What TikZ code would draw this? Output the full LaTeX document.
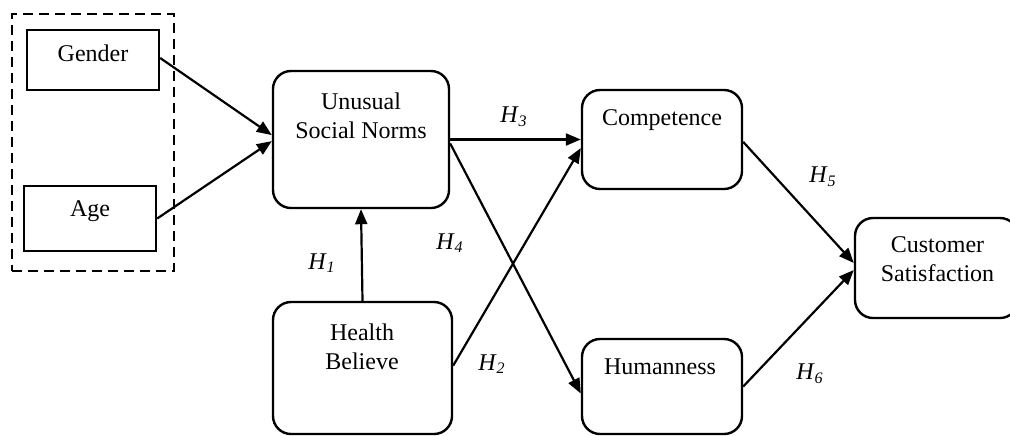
\documentclass[12pt,tikz,border=0pt]{standalone}
\usepackage{fontspec}
\setmainfont{Liberation Serif}
\usetikzlibrary{arrows.meta}

\tikzset{
  sqbox/.style={draw=black,line width=1.2pt,inner sep=0pt},
  rbox/.style={draw=black,line width=1.2pt,rounded corners=9pt,inner sep=0pt},
  groupbox/.style={draw=black,line width=1.2pt,dash pattern=on 5pt off 3pt,inner sep=0pt},
  txt/.style={align=center,inner sep=0pt,font=\normalsize},
  hlabel/.style={inner sep=0pt},
  link/.style={line width=1.1pt,-{Triangle[length=7.5pt,width=6pt]}}
}
\newcommand{\hyp}[1]{\textit{H}\textsubscript{\textit{#1}}} % Parameter: hypothesis number

\begin{document}
\begin{tikzpicture}[x=0.5pt,y=-0.5pt]
  \useasboundingbox (0,0) rectangle (1010,435);
  % control variables
  \node[groupbox,minimum width=81pt,minimum height=128.5pt] (ctrl) at (93,142.5) {};
  \node[sqbox,minimum width=66pt,minimum height=30pt] (gender) at (93,60) {};
  \node[txt] (gendertxt) at (93,53) {Gender};
  \node[sqbox,minimum width=66pt,minimum height=32.5pt] (age) at (90,218.5) {};
  \node[txt] (agetxt) at (90,211) {Age};
  % constructs
  \node[rbox,minimum width=88pt,minimum height=68.5pt] (usn) at (361,139.5) {};
  \node[txt] (usntxt) at (361,116) {Unusual\\Social Norms};
  \node[rbox,minimum width=89.5pt,minimum height=66pt] (hb) at (362.5,368) {};
  \node[txt] (hbtxt) at (362,347) {Health\\Believe};
  \node[rbox,minimum width=80pt,minimum height=49.5pt] (comp) at (662,139.5) {};
  \node[txt] (comptxt) at (662,120) {Competence};
  \node[rbox,minimum width=80pt,minimum height=47.5pt] (hum) at (662,386.5) {};
  \node[txt] (humtxt) at (660,367) {Humanness};
  \node[rbox,minimum width=81.5pt,minimum height=50pt] (cs) at (936.5,268) {};
  \node[txt] (cstxt) at (937.5,259) {Customer\\Satisfaction};
  % paths
  \draw[link] ([yshift=1pt]gender.east) -- ([yshift=2.2pt]usn.west);
  \draw[link] (age.east) -- ([yshift=-0.8pt]usn.west);
  \draw[link] (hb.north) -- (usn.south);
  \draw[link] (usn.east) -- (comp.west);
  \draw[link] ([yshift=-2pt]usn.east) -- ([yshift=-3.5pt]hum.west);
  \draw[link] ([yshift=1.2pt]hb.east) -- ([yshift=-4.3pt]comp.west);
  \draw[link] ([yshift=-1.2pt]comp.east) -- ([yshift=2.5pt]cs.west);
  \draw[link] (hum.east) -- ([yshift=-1pt]cs.west);
  % hypothesis labels
  \node[hlabel] (h1) at (322,263) {\hyp{1}};
  \node[hlabel] (h2) at (492,364) {\hyp{2}};
  \node[hlabel] (h3) at (514,117) {\hyp{3}};
  \node[hlabel] (h4) at (450,243) {\hyp{4}};
  \node[hlabel] (h5) at (823,177) {\hyp{5}};
  \node[hlabel] (h6) at (810,374) {\hyp{6}};
\end{tikzpicture}
\end{document}
